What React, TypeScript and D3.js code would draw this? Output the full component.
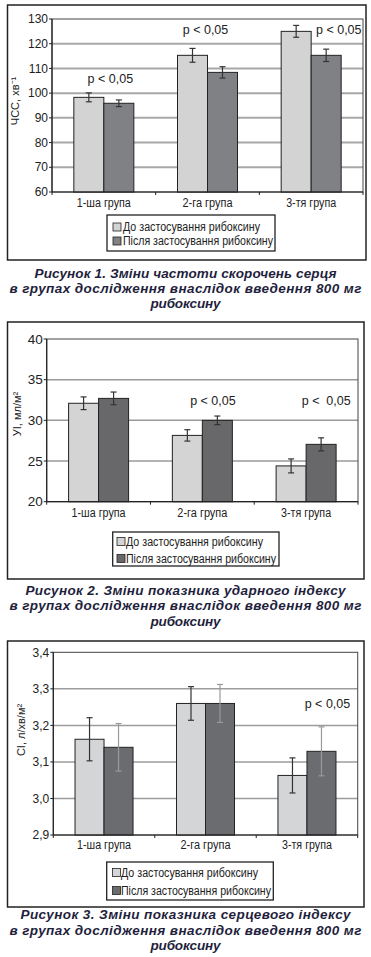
import React from "react";
import * as d3 from "d3";

const groups = ["1-ша група", "2-га група", "3-тя група"];
const seriesNames = ["До застосування рибоксину", "Після застосування рибоксину"];

// Figure 1: heart rate
const hrBefore = [98.3, 115.3, 125.0];
const hrBeforeErr = [1.8, 2.8, 2.4];
const hrAfter = [95.9, 108.4, 115.3];
const hrAfterErr = [1.35, 2.3, 2.5];
const hrTicks = [60, 70, 80, 90, 100, 110, 120, 130];
const hrP = [
  { g: 0, dx: 6.5, v: 104.1, t: "p < 0,05" },
  { g: 1, dx: -2, v: 123.9, t: "p < 0,05" },
  { g: 2, dx: 27.6, v: 123.9, t: "p < 0,05" },
];

// Figure 2: stroke index
const siBefore = [32.1, 28.15, 24.4];
const siBeforeErr = [0.78, 0.7, 0.86];
const siAfter = [32.7, 30.0, 27.05];
const siAfterErr = [0.78, 0.53, 0.8];
const siTicks = [20, 25, 30, 35, 40];
const siP = [
  { g: 1, dx: 10.6, v: 31.9, t: "p < 0,05" },
  { g: 2, dx: 20.1, v: 31.9, t: "p <  0,05" },
];

// Figure 3: cardiac index
const ciBefore = [3.162, 3.26, 3.063];
const ciBeforeErr = [0.059, 0.046, 0.048];
const ciAfter = [3.14, 3.26, 3.129];
const ciAfterErr = [0.065, 0.052, 0.067];
const ciTicks = [2.9, 3.0, 3.1, 3.2, 3.3, 3.4];
const ciP = [{ g: 2, dx: 20.5, v: 3.248, t: "p < 0,05" }];

const captions1 = [
  "Рисунок 1. Зміни частоти скорочень серця",
  "в групах дослідження внаслідок введення 800 мг",
  "рибоксину",
];
const captions2 = [
  "Рисунок 2. Зміни показника ударного індексу",
  "в групах дослідження внаслідок введення 800 мг",
  "рибоксину",
];
const captions3 = [
  "Рисунок 3. Зміни показника серцевого індексу",
  "в групах дослідження внаслідок введення 800 мг",
  "рибоксину",
];

type Cfg = {
  frame: [number, number, number, number];
  plot: [number, number, number, number]; // left, top, right, bottom
  domain: [number, number];
  ticks: number[];
  grid: number[];
  fmt: (v: number) => string;
  tickFont: number;
  before: number[];
  beforeErr: number[];
  after: number[];
  afterErr: number[];
  barW: number;
  light: string;
  dark: string;
  gridColor: string;
  gridW: number;
  afterErrColor: string;
  pLabels: { g: number; dx: number; v: number; t: string }[];
  pFont: number;
  yLabel: string;
  yLabelPos: [number, number];
  xLabelY: number;
  xLabelW: number[];
  legend: [number, number, number, number];
  legendSq: number;
  legendRows: [number, number];
  legendTextX: number;
  legendTextW: [number, number];
  captions: string[];
  capY: number[];
  capW: number[];
};

const fmtComma = (v: number) => d3.format(".1f")(v).replace(".", ",");

function Chart({ c }: { c: Cfg }) {
  const [l, t, r, b] = c.plot;
  const x = d3.scaleBand<string>().domain(groups).range([l, r]).padding(0);
  const y = d3.scaleLinear().domain(c.domain).range([b, t]);
  const sub = d3.scaleBand<number>().domain([0, 1]).range([-c.barW, c.barW]).padding(0);
  const capColor = "#1f1f3d";
  const series = [
    { vals: c.before, errs: c.beforeErr, fill: c.light, ec: "#333" },
    { vals: c.after, errs: c.afterErr, fill: c.dark, ec: c.afterErrColor },
  ];
  const bounds = [...groups.map((g) => x(g) as number), r];
  return (
    <g>
      <rect x={c.frame[0]} y={c.frame[1]} width={c.frame[2]} height={c.frame[3]} fill="#fff" stroke="#222" strokeWidth={1.5} />
      {c.grid.map((v) => (
        <line key={"g" + v} x1={l} x2={r} y1={y(v)} y2={y(v)} stroke={c.gridColor} strokeWidth={c.gridW} />
      ))}
      <rect x={l} y={t} width={r - l} height={b - t} fill="none" stroke="#444" strokeWidth={1} />
      {series.map((s, si) =>
        groups.map((g, gi) => {
          const cx = (x(g) as number) + x.bandwidth() / 2;
          const bx = cx + (sub(si) as number);
          const v = s.vals[gi];
          return (
            <rect key={`b${si}${gi}`} x={bx} y={y(v)} width={sub.bandwidth()} height={b - y(v)} fill={s.fill} stroke="#222" strokeWidth={1} />
          );
        })
      )}
      {series.map((s, si) =>
        groups.map((g, gi) => {
          const cx = (x(g) as number) + x.bandwidth() / 2;
          const ex = cx + (sub(si) as number) + sub.bandwidth() / 2;
          const v = s.vals[gi];
          const e = s.errs[gi];
          return (
            <g key={`e${si}${gi}`} stroke={s.ec} strokeWidth={1.2}>
              <line x1={ex} x2={ex} y1={y(v + e)} y2={y(v - e)} />
              <line x1={ex - 3} x2={ex + 3} y1={y(v + e)} y2={y(v + e)} />
              <line x1={ex - 3} x2={ex + 3} y1={y(v - e)} y2={y(v - e)} />
            </g>
          );
        })
      )}
      <line x1={l} x2={l} y1={t} y2={b} stroke="#222" strokeWidth={1.2} />
      <line x1={l} x2={r} y1={b} y2={b} stroke="#222" strokeWidth={1.2} />
      {c.ticks.map((v) => (
        <g key={"t" + v}>
          <line x1={l - 3} x2={l} y1={y(v)} y2={y(v)} stroke="#222" />
          <text x={l - 4} y={y(v)} dy="0.35em" textAnchor="end" fontSize={c.tickFont} fontFamily="Liberation Sans, Arial, sans-serif" fill="#222">
            {c.fmt(v)}
          </text>
        </g>
      ))}
      {bounds.map((bx, i) => (
        <line key={"xt" + i} x1={bx} x2={bx} y1={b} y2={b + 3} stroke="#222" />
      ))}
      {groups.map((g, i) => (
        <text key={"xl" + g} x={(x(g) as number) + x.bandwidth() / 2} y={c.xLabelY} textAnchor="middle" fontSize={12.5}
          fontFamily="Liberation Sans, Arial, sans-serif" fill="#222" textLength={c.xLabelW[i]} lengthAdjust="spacingAndGlyphs">
          {g}
        </text>
      ))}
      {c.pLabels.map((p, i) => (
        <text key={"p" + i} x={(x(groups[p.g]) as number) + x.bandwidth() / 2 + p.dx} y={y(p.v)} textAnchor="middle"
          fontSize={c.pFont} fontFamily="Liberation Sans, Arial, sans-serif" fill="#222" style={{ whiteSpace: "pre" }}>
          {p.t}
        </text>
      ))}
      <text transform={`translate(${c.yLabelPos[0]},${c.yLabelPos[1]}) rotate(-90)`} textAnchor="middle" dy="0.35em"
        fontSize={11} fontFamily="Liberation Sans, Arial, sans-serif" fill="#222">
        {c.yLabel}
      </text>
      <rect x={c.legend[0]} y={c.legend[1]} width={c.legend[2]} height={c.legend[3]} fill="#fff" stroke="#222" strokeWidth={1.3} />
      {seriesNames.map((n, i) => (
        <g key={"lg" + i}>
          <rect x={c.legendSq} y={c.legendRows[i] - 4} width={8} height={8} fill={i === 0 ? c.light : c.dark} stroke="#222" strokeWidth={0.8} />
          <text x={c.legendTextX} y={c.legendRows[i]} dy="0.35em" fontSize={12} fontFamily="Liberation Sans, Arial, sans-serif"
            fill="#222" textLength={c.legendTextW[i]} lengthAdjust="spacingAndGlyphs">
            {n}
          </text>
        </g>
      ))}
      {c.captions.map((s, i) => (
        <text key={"c" + i} x={185.5} y={c.capY[i]} textAnchor="middle" fontSize={13.5} fontWeight="bold" fontStyle="italic"
          fontFamily="Liberation Sans, Arial, sans-serif" fill={capColor} textLength={c.capW[i]} lengthAdjust="spacing">
          {s}
        </text>
      ))}
    </g>
  );
}

const cfg1: Cfg = {
  frame: [7.5, 5, 358.5, 255],
  plot: [52, 19, 363, 192],
  domain: [60, 130],
  ticks: hrTicks,
  grid: [70, 80, 90, 100, 110, 120],
  fmt: (v) => String(v),
  tickFont: 12,
  before: hrBefore,
  beforeErr: hrBeforeErr,
  after: hrAfter,
  afterErr: hrAfterErr,
  barW: 30,
  light: "#d3d3d3",
  dark: "#808184",
  gridColor: "#a8a8a8",
  gridW: 2,
  afterErrColor: "#333",
  pLabels: hrP,
  pFont: 12.5,
  yLabel: "ЧСС, хв⁻¹",
  yLabelPos: [15, 101],
  xLabelY: 206.5,
  xLabelW: [54, 50, 50],
  legend: [107, 215, 168, 36],
  legendSq: 113,
  legendRows: [227, 241],
  legendTextX: 123,
  legendTextW: [137, 150],
  captions: captions1,
  capY: [277.5, 293, 308],
  capW: [302, 352, 70],
};

const cfg2: Cfg = {
  frame: [7.5, 322, 356.5, 257],
  plot: [46.7, 339, 358, 501.7],
  domain: [20, 40],
  ticks: siTicks,
  grid: [25, 30, 35],
  fmt: (v) => String(v),
  tickFont: 13.5,
  before: siBefore,
  beforeErr: siBeforeErr,
  after: siAfter,
  afterErr: siAfterErr,
  barW: 30,
  light: "#d4d4d4",
  dark: "#68686b",
  gridColor: "#9a9a9a",
  gridW: 1.5,
  afterErrColor: "#333",
  pLabels: siP,
  pFont: 12.5,
  yLabel: "УІ, мл/м²",
  yLabelPos: [17.5, 414],
  xLabelY: 517,
  xLabelW: [54, 50, 50],
  legend: [112.7, 532, 166.3, 34],
  legendSq: 117,
  legendRows: [541.5, 558.5],
  legendTextX: 126,
  legendTextW: [137, 150],
  captions: captions2,
  capY: [595, 610, 625.5],
  capW: [320, 352, 70],
};

const cfg3: Cfg = {
  frame: [7.5, 641, 356.5, 266],
  plot: [53.3, 652.3, 357.7, 835],
  domain: [2.9, 3.4],
  ticks: ciTicks,
  grid: [3.0, 3.1, 3.2, 3.3],
  fmt: fmtComma,
  tickFont: 12,
  before: ciBefore,
  beforeErr: ciBeforeErr,
  after: ciAfter,
  afterErr: ciAfterErr,
  barW: 29,
  light: "#d4d5d7",
  dark: "#6b6c70",
  gridColor: "#9c9c9c",
  gridW: 1.5,
  afterErrColor: "#999",
  pLabels: ciP,
  pFont: 12.5,
  yLabel: "СІ, л/хв/м²",
  yLabelPos: [21.5, 730],
  xLabelY: 849,
  xLabelW: [54, 50, 50],
  legend: [106.7, 862, 166.6, 38],
  legendSq: 112.5,
  legendRows: [872.5, 890.5],
  legendTextX: 121,
  legendTextW: [137, 150],
  captions: captions3,
  capY: [919, 935, 950],
  capW: [330, 352, 70],
};

export default function App() {
  return (
    <svg width={371} height={957} viewBox="0 0 371 957" style={{ position: "absolute", left: 0, top: 0, background: "#fff" }}>
      <rect x={0} y={0} width={371} height={957} fill="#fff" />
      <Chart c={cfg1} />
      <Chart c={cfg2} />
      <Chart c={cfg3} />
    </svg>
  );
}
